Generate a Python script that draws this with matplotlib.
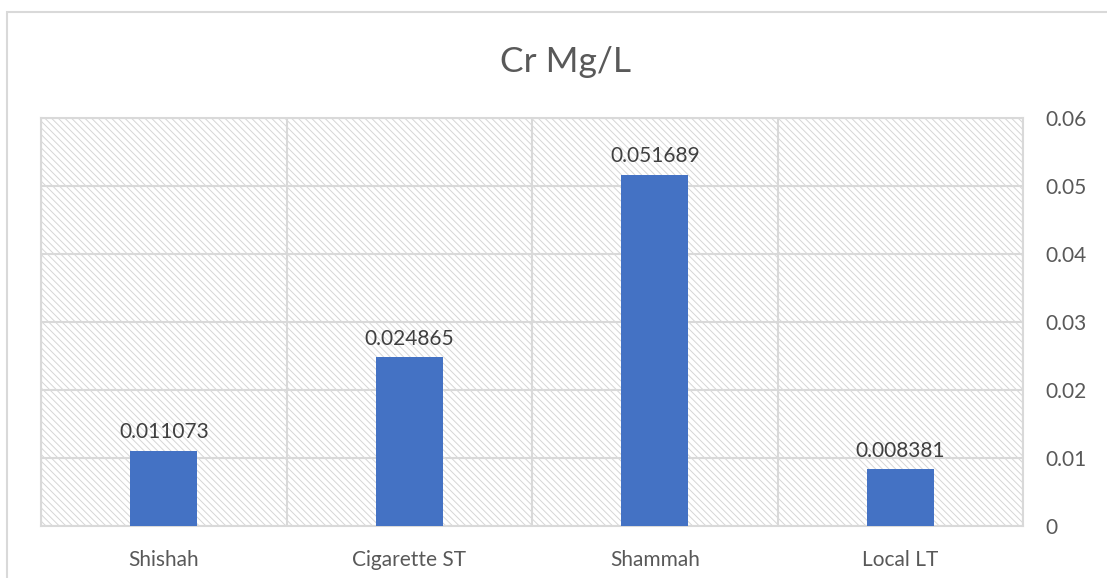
import matplotlib
matplotlib.use("Agg")
import matplotlib.pyplot as plt
from matplotlib.patches import Rectangle
import numpy as np

categories = ["Shishah", "Cigarette ST", "Shammah", "Local LT"]
values = [0.011073, 0.024865, 0.051689, 0.008381]
value_labels = ["0.011073", "0.024865", "0.051689", "0.008381"]
y_ticks = [0, 0.01, 0.02, 0.03, 0.04, 0.05, 0.06]
y_tick_labels = ["0", "0.01", "0.02", "0.03", "0.04", "0.05", "0.06"]
title = "Cr Mg/L"

plt.rcParams["font.family"] = ["Lato", "DejaVu Sans"]
plt.rcParams["hatch.linewidth"] = 0.7

W, H = 1107, 578
fig = plt.figure(figsize=(W / 100, H / 100), dpi=100)
fig.patch.set_facecolor("white")

# outer chart frame (extends past the right and bottom edges)
fig.patches.append(Rectangle((7 / W, -0.2), 1.2, 1.2 - 12 / H,
                             transform=fig.transFigure, fill=False,
                             edgecolor="#d9d9d9", linewidth=1.5, zorder=0))

left, right, top, bottom = 41, 1023, 118, 526
ax = fig.add_axes([left / W, 1 - bottom / H, (right - left) / W, (bottom - top) / H])
ax.patch.set_visible(False)

# hatched plot area background
ax.add_patch(Rectangle((0, 0), 1, 1, transform=ax.transAxes, facecolor="white",
                       edgecolor="#d6d6d6", linewidth=0, hatch="\\\\\\\\\\", zorder=0))

x = np.arange(len(categories))
ax.bar(x, values, width=0.273, color="#4472C4", zorder=3)

for xi, v, lab in zip(x, values, value_labels):
    ax.annotate(lab, (xi, v), xytext=(0, 6), textcoords="offset points",
                ha="center", va="bottom", fontsize=15, color="#404040", zorder=4)

ax.set_xlim(-0.5, len(categories) - 0.5)
ax.set_ylim(0, 0.06)
ax.set_xticks(x)
ax.set_xticklabels(categories, fontsize=15, color="#595959")
ax.set_xticks(np.arange(len(categories) + 1) - 0.5, minor=True)
ax.yaxis.tick_right()
ax.set_yticks(y_ticks)
ax.set_yticklabels(y_tick_labels, fontsize=15, color="#595959")
ax.tick_params(axis="y", length=0, pad=16)
ax.tick_params(axis="x", which="both", length=0, pad=17)

ax.grid(axis="y", which="major", color="#d9d9d9", linewidth=1.5, zorder=1)
ax.grid(axis="x", which="minor", color="#d9d9d9", linewidth=1.5, zorder=1)
ax.grid(axis="x", which="major", visible=False)
ax.set_axisbelow(True)
for s in ax.spines.values():
    s.set_color("#d9d9d9")
    s.set_linewidth(1.5)

fig.text(565 / W, 1 - 62 / H, title, ha="center", va="center",
         fontsize=25.5, color="#595959")

fig.savefig("out.png", dpi=100)
